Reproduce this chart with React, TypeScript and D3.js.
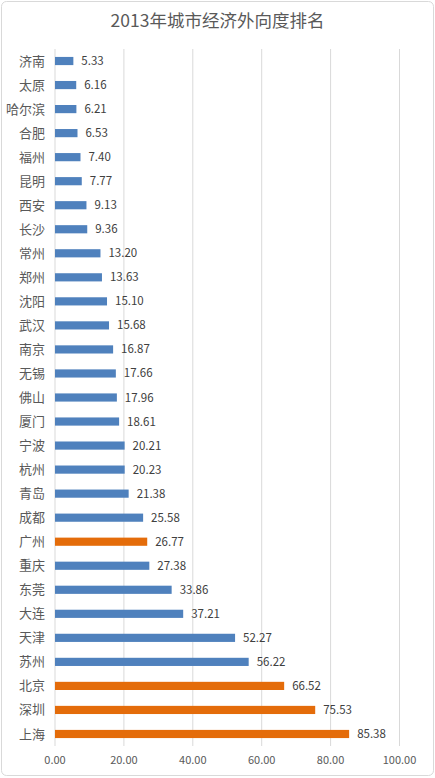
import React, { useEffect, useRef } from 'react';
import * as d3 from 'd3';

const cities = ['济南', '太原', '哈尔滨', '合肥', '福州', '昆明', '西安', '长沙', '常州', '郑州', '沈阳', '武汉', '南京', '无锡', '佛山', '厦门', '宁波', '杭州', '青岛', '成都', '广州', '重庆', '东莞', '大连', '天津', '苏州', '北京', '深圳', '上海'];
const values = [5.33, 6.16, 6.21, 6.53, 7.40, 7.77, 9.13, 9.36, 13.20, 13.63, 15.10, 15.68, 16.87, 17.66, 17.96, 18.61, 20.21, 20.23, 21.38, 25.58, 26.77, 27.38, 33.86, 37.21, 52.27, 56.22, 66.52, 75.53, 85.38];
const highlighted = ['广州', '北京', '深圳', '上海'];
const xTicks = [0, 20, 40, 60, 80, 100];

const W = 435;
const H = 778;
const FONT = '"Noto Sans CJK SC", "Noto Sans", sans-serif';

const App: React.FC = () => {
  const svgRef = useRef<SVGSVGElement>(null);

  useEffect(() => {
    if (!svgRef.current) return;
    const svg = d3.select(svgRef.current);
    svg.selectAll('*').remove();

    const left = 55;
    const right = 399.5;
    const top = 49;
    const bottom = 746;

    const x = d3.scaleLinear().domain([0, 100]).range([left, right]);
    const y = d3.scaleBand<string>().domain(cities).range([top, bottom]).paddingInner(0.66).paddingOuter(0.33);

    // chart frame
    svg.append('rect')
      .attr('x', 1.5).attr('y', 1.5)
      .attr('width', W - 3).attr('height', H - 4)
      .attr('rx', 5)
      .attr('fill', '#fff')
      .attr('stroke', '#d9d9d9');

    svg.append('text')
      .attr('x', W / 2).attr('y', 27)
      .attr('text-anchor', 'middle')
      .attr('font-family', FONT)
      .attr('font-size', 17.5)
      .attr('fill', '#595959')
      .text('2013年城市经济外向度排名');

    // gridlines
    svg.append('g').selectAll('line')
      .data(xTicks)
      .join('line')
      .attr('x1', d => x(d)).attr('x2', d => x(d))
      .attr('y1', top).attr('y2', bottom)
      .attr('stroke', '#d9d9d9')
      .attr('stroke-width', 1);

    // axis labels
    svg.append('g').selectAll('text')
      .data(xTicks)
      .join('text')
      .attr('x', d => x(d)).attr('y', 764)
      .attr('text-anchor', 'middle')
      .attr('font-family', FONT)
      .attr('font-size', 11)
      .attr('fill', '#595959')
      .text(d => d3.format('.2f')(d));

    // category labels
    svg.append('g').selectAll('text')
      .data(cities)
      .join('text')
      .attr('x', 45)
      .attr('y', d => (y(d) ?? 0) + y.bandwidth() / 2)
      .attr('dy', '0.35em')
      .attr('text-anchor', 'end')
      .attr('font-family', FONT)
      .attr('font-size', 13)
      .attr('fill', '#595959')
      .text(d => d);

    // bars
    svg.append('g').selectAll('rect')
      .data(cities)
      .join('rect')
      .attr('x', x(0))
      .attr('y', d => y(d) ?? 0)
      .attr('width', (d, i) => x(values[i]) - x(0))
      .attr('height', y.bandwidth())
      .attr('fill', d => highlighted.includes(d) ? '#e46c0a' : '#4f81bd');

    // value labels
    svg.append('g').selectAll('text')
      .data(cities)
      .join('text')
      .attr('x', (d, i) => x(values[i]) + 8)
      .attr('y', d => (y(d) ?? 0) + y.bandwidth() / 2)
      .attr('dy', '0.35em')
      .attr('font-family', FONT)
      .attr('font-size', 11.5)
      .attr('fill', '#404040')
      .text((d, i) => d3.format('.2f')(values[i]));
  }, []);

  return (
    <svg ref={svgRef} width={W} height={H} style={{ position: 'absolute', left: 0, top: 0 }} />
  );
};

export default App;
